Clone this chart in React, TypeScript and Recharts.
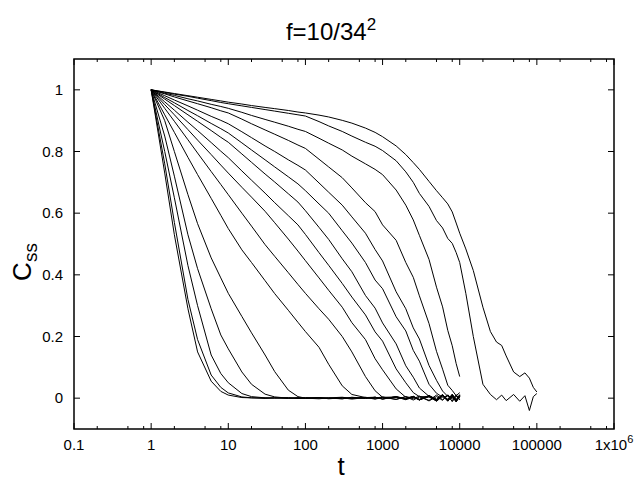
import { LineChart, Line, XAxis, YAxis } from "recharts";

// time grid shared by all runs (runs 1-14 stop at t = 10000)
const T = [
  1, 1.5, 2, 3, 4, 6, 8, 10, 15, 20, 30, 40, 60, 80, 100, 150, 200, 300, 400, 600, 800, 1000,
  1500, 2000, 2500, 3000, 4000, 5000, 6000, 7000, 8000, 9000, 10000, 12000, 15000, 20000,
  25000, 30000, 35000, 40000, 50000, 60000, 70000, 80000, 90000, 100000,
];

const C1 = [1, 0.73, 0.53, 0.29, 0.15, 0.055, 0.022, 0.01, 0.002, 0.001, -0.001, 0.001, 0, -0.001, 0.002, 0, 0.001, -0.002, 0.003, -0.001, 0.003, -0.003, 0.005, -0.002, 0.006, -0.004, 0.009, -0.006, 0.01, -0.004, 0.012, -0.008, 0.004];
const C2 = [1, 0.76, 0.57, 0.32, 0.19, 0.075, 0.035, 0.017, 0.004, 0.001, 0.001, 0, 0.002, -0.001, 0, 0.002, -0.002, 0.001, -0.003, 0.002, 0, 0.004, -0.004, 0.005, -0.002, 0.007, -0.009, 0.005, -0.007, 0.011, -0.003, 0.009, -0.006];
const C3 = [1, 0.8, 0.65, 0.43, 0.3, 0.14, 0.08, 0.05, 0.015, 0.005, 0.001, 0.001, -0.001, 0.002, 0, -0.002, 0.001, 0.003, -0.001, 0.002, -0.003, 0.002, 0.004, -0.005, 0.003, -0.006, 0.008, -0.003, 0.012, -0.008, 0.005, -0.011, 0.009];
const C4 = [1, 0.85, 0.72, 0.53, 0.42, 0.29, 0.205, 0.16, 0.085, 0.045, 0.013, 0.004, 0, 0.001, -0.001, 0.002, 0, -0.002, 0.002, -0.001, 0.003, -0.003, 0.005, -0.002, 0.006, -0.005, 0.004, -0.009, 0.008, -0.004, 0.01, -0.006, 0.012];
const C5 = [1, 0.9, 0.8, 0.66, 0.566, 0.455, 0.39, 0.34, 0.265, 0.212, 0.14, 0.086, 0.026, 0.005, 0, 0.001, -0.001, 0.002, -0.001, 0.003, -0.002, 0.003, -0.004, 0.005, -0.006, 0.004, -0.007, 0.01, -0.005, 0.009, -0.011, 0.006, -0.004];
const C6 = [1, 0.919, 0.862, 0.781, 0.725, 0.648, 0.593, 0.55, 0.481, 0.44, 0.381, 0.339, 0.285, 0.246, 0.216, 0.165, 0.11, 0.04, 0.012, 0.002, 0.003, -0.002, 0.004, -0.003, 0.005, -0.006, 0.008, -0.005, 0.01, -0.009, 0.007, -0.012, 0.005];
const C7 = [1, 0.94, 0.898, 0.838, 0.795, 0.735, 0.693, 0.66, 0.6, 0.558, 0.498, 0.46, 0.407, 0.369, 0.34, 0.29, 0.256, 0.2, 0.15, 0.07, 0.024, 0.003, 0.002, -0.003, 0.005, -0.005, 0.007, -0.01, 0.006, -0.008, 0.012, -0.005, 0.008];
const C8 = [1, 0.952, 0.919, 0.871, 0.837, 0.79, 0.756, 0.73, 0.684, 0.652, 0.606, 0.569, 0.516, 0.477, 0.446, 0.39, 0.35, 0.295, 0.245, 0.19, 0.128, 0.092, 0.03, 0.003, 0.003, -0.004, 0.006, -0.007, 0.01, -0.007, 0.011, -0.009, 0.006];
const C9 = [1, 0.961, 0.934, 0.895, 0.868, 0.829, 0.801, 0.78, 0.737, 0.707, 0.665, 0.634, 0.592, 0.562, 0.531, 0.472, 0.431, 0.372, 0.328, 0.27, 0.215, 0.185, 0.095, 0.05, 0.018, 0.005, 0.005, -0.006, 0.009, -0.01, 0.008, -0.012, 0.01];
const C10 = [1, 0.97, 0.949, 0.919, 0.898, 0.868, 0.846, 0.83, 0.792, 0.765, 0.727, 0.701, 0.663, 0.636, 0.608, 0.554, 0.515, 0.452, 0.41, 0.333, 0.292, 0.244, 0.176, 0.105, 0.068, 0.033, 0.006, -0.006, 0.01, -0.004, 0.012, -0.009, 0.005];
const C11 = [1, 0.975, 0.958, 0.933, 0.916, 0.891, 0.874, 0.86, 0.828, 0.805, 0.773, 0.75, 0.718, 0.695, 0.673, 0.63, 0.6, 0.543, 0.503, 0.44, 0.383, 0.355, 0.264, 0.218, 0.155, 0.12, 0.045, 0.016, 0.003, 0.008, -0.01, 0.011, -0.005];
const C12 = [1, 0.981, 0.967, 0.948, 0.934, 0.914, 0.901, 0.89, 0.864, 0.845, 0.818, 0.8, 0.773, 0.755, 0.74, 0.698, 0.668, 0.626, 0.588, 0.535, 0.482, 0.445, 0.345, 0.29, 0.228, 0.192, 0.106, 0.058, 0.023, 0.006, 0.002, -0.005, 0.008];
const C13 = [1, 0.987, 0.977, 0.964, 0.955, 0.942, 0.932, 0.925, 0.905, 0.89, 0.87, 0.856, 0.836, 0.821, 0.81, 0.775, 0.75, 0.715, 0.682, 0.634, 0.605, 0.562, 0.512, 0.44, 0.392, 0.332, 0.242, 0.152, 0.094, 0.042, 0.025, 0.008, 0.018];
const C14 = [1, 0.989, 0.982, 0.971, 0.964, 0.953, 0.946, 0.94, 0.927, 0.917, 0.904, 0.895, 0.882, 0.872, 0.865, 0.843, 0.827, 0.805, 0.785, 0.76, 0.742, 0.725, 0.675, 0.626, 0.578, 0.528, 0.45, 0.36, 0.296, 0.22, 0.17, 0.112, 0.07];
const C15 = [1, 0.992, 0.986, 0.979, 0.973, 0.965, 0.959, 0.955, 0.948, 0.943, 0.936, 0.931, 0.924, 0.919, 0.915, 0.897, 0.883, 0.865, 0.85, 0.83, 0.817, 0.803, 0.77, 0.734, 0.7, 0.664, 0.622, 0.576, 0.552, 0.518, 0.502, 0.472, 0.44, 0.34, 0.2, 0.045, 0.012, -0.005, 0.01, -0.008, 0.012, -0.01, 0.008, -0.04, 0.005, 0.015];
const C16 = [1, 0.993, 0.988, 0.981, 0.976, 0.969, 0.964, 0.96, 0.954, 0.949, 0.943, 0.939, 0.933, 0.928, 0.925, 0.918, 0.912, 0.901, 0.892, 0.876, 0.862, 0.848, 0.818, 0.79, 0.764, 0.742, 0.703, 0.673, 0.65, 0.63, 0.604, 0.568, 0.535, 0.484, 0.414, 0.295, 0.216, 0.182, 0.171, 0.137, 0.085, 0.07, 0.082, 0.065, 0.035, 0.02];

const RUNS = [C1, C2, C3, C4, C5, C6, C7, C8, C9, C10, C11, C12, C13, C14, C15, C16];

const X_MAJOR = [0.1, 1, 10, 100, 1000, 10000, 100000, 1000000];
const X_LABELS = ["0.1", "1", "10", "100", "1000", "10000", "100000", "1x10"];
const X_MINOR = [
  0.2, 0.5, 0.8, 2, 5, 8, 20, 50, 80, 200, 500, 800, 2000, 5000, 8000, 20000, 50000, 80000,
  200000, 500000, 800000,
];
const Y_TICKS = [0, 0.2, 0.4, 0.6, 0.8, 1];
const Y_LABELS = ["0", "0.2", "0.4", "0.6", "0.8", "1"];

const PLOT = { left: 74, top: 59, width: 540, height: 370 };
const FONT = '"Liberation Sans", Arial, Helvetica, sans-serif';

const rows = T.map((t, i) => {
  const row: Record<string, number> = { t };
  RUNS.forEach((run, k) => {
    if (i < run.length) row["c" + k] = run[i];
  });
  return row;
});

function XTick(props: any) {
  const { x, y, payload } = props;
  const idx = X_MAJOR.indexOf(payload.value);
  const len = idx >= 0 ? 6 : 3;
  return (
    <g>
      <line x1={x} x2={x} y1={y} y2={y - len} stroke="#000" />
      <line x1={x} x2={x} y1={y - PLOT.height} y2={y - PLOT.height + len} stroke="#000" />
      {idx >= 0 && (
        <text x={x} y={y + 21} textAnchor="middle" fontSize={15} fontFamily={FONT} fill="#000">
          {X_LABELS[idx]}
          {idx === X_MAJOR.length - 1 && (
            <tspan dy={-7} fontSize={11}>
              6
            </tspan>
          )}
        </text>
      )}
    </g>
  );
}

function YTick(props: any) {
  const { x, y, payload } = props;
  const idx = Y_TICKS.indexOf(payload.value);
  return (
    <g>
      <line x1={x} x2={x + 6} y1={y} y2={y} stroke="#000" />
      <line x1={x + PLOT.width} x2={x + PLOT.width - 6} y1={y} y2={y} stroke="#000" />
      <text x={x - 11} y={y + 5} textAnchor="end" fontSize={15} fontFamily={FONT} fill="#000">
        {Y_LABELS[idx]}
      </text>
    </g>
  );
}

export default function App() {
  return (
    <div style={{ position: "absolute", left: 0, top: 0, width: 640, height: 480, background: "#fff" }}>
      <LineChart
        width={640}
        height={480}
        data={rows}
        margin={{ top: PLOT.top, right: 640 - PLOT.left - PLOT.width, bottom: 0, left: 0 }}
      >
        <XAxis
          dataKey="t"
          type="number"
          scale="log"
          domain={[0.1, 1000000]}
          ticks={[...X_MAJOR, ...X_MINOR]}
          interval={0}
          allowDataOverflow
          axisLine={false}
          tickLine={false}
          tickSize={0}
          tickMargin={0}
          height={480 - PLOT.top - PLOT.height}
          tick={<XTick />}
        />
        <YAxis
          type="number"
          domain={[-0.1, 1.1]}
          ticks={Y_TICKS}
          interval={0}
          allowDataOverflow
          axisLine={false}
          tickLine={false}
          tickSize={0}
          tickMargin={0}
          width={PLOT.left}
          tick={<YTick />}
        />
        {RUNS.map((_, k) => (
          <Line
            key={k}
            dataKey={"c" + k}
            stroke="#000"
            strokeWidth={1}
            dot={false}
            activeDot={false}
            isAnimationActive={false}
          />
        ))}
      </LineChart>
      <svg
        width={640}
        height={480}
        style={{ position: "absolute", left: 0, top: 0, pointerEvents: "none" }}
      >
        <rect
          x={PLOT.left}
          y={PLOT.top}
          width={PLOT.width}
          height={PLOT.height}
          fill="none"
          stroke="#000"
          strokeWidth={1.5}
        />
        <text x={331} y={40} textAnchor="middle" fontSize={24} fontFamily={FONT} fill="#000">
          f=10/34
          <tspan dy={-10} fontSize={17}>
            2
          </tspan>
        </text>
        <text x={341} y={475} textAnchor="middle" fontSize={26} fontFamily={FONT} fill="#000">
          t
        </text>
        <text
          transform="translate(31,262) rotate(-90)"
          textAnchor="middle"
          fontSize={26}
          fontFamily={FONT}
          fill="#000"
        >
          C
          <tspan dy={6} fontSize={19}>
            ss
          </tspan>
        </text>
      </svg>
    </div>
  );
}
